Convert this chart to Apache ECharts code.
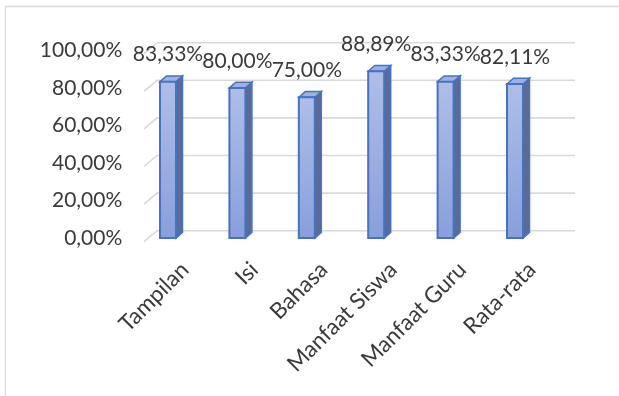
<!DOCTYPE html>
<html>
<head>
<meta charset="utf-8">
<style>
html,body{margin:0;padding:0;background:#fff;}
#c{width:619px;height:396px;}
</style>
<script src="https://cdn.jsdelivr.net/npm/echarts@6/dist/echarts.min.js"></script>
</head>
<body>
<div id="c"></div>
<script>
const categories = ['Tampilan', 'Isi', 'Bahasa', 'Manfaat Siswa', 'Manfaat Guru', 'Rata-rata'];
const values = [83.33, 80.00, 75.00, 88.89, 83.33, 82.11];
const yTicks = [0, 20, 40, 60, 80, 100];

const FONT = 'Lato';
const FS = 21;
const CAT_FS = 22.5;
const TXT = '#3a3a3a';
const fmt = v => v.toFixed(2).replace('.', ',') + '%';

const chart = echarts.init(document.getElementById('c'), null, {renderer: 'canvas'});

const option = {
  animation: false,
  backgroundColor: '#ffffff',
  graphic: [
    {type: 'line', shape: {x1: 5.5, y1: 6, x2: 5.5, y2: 396}, style: {stroke: '#d9d9d9', lineWidth: 1.3}},
    {type: 'line', shape: {x1: 5, y1: 6.5, x2: 619, y2: 6.5}, style: {stroke: '#d9d9d9', lineWidth: 1.3}}
  ],
  grid: [
    {left: 133.3, top: 50.4, width: 416.4, height: 187.6},   // front plane (bars)
    {left: 157, top: 42.7, width: 418, height: 188},          // back wall (gridlines)
    {left: 150.3, top: 50.4, width: 416.4, height: 187.6}    // category labels
  ],
  xAxis: [
    {type: 'category', gridIndex: 0, data: categories, show: false},
    {type: 'category', gridIndex: 1, data: categories, show: false},
    {type: 'category', gridIndex: 2, data: categories,
      axisLine: {show: false}, axisTick: {show: false},
      axisLabel: {rotate: 45, margin: 28, interval: 0, fontFamily: FONT, fontSize: CAT_FS, color: TXT}}
  ],
  yAxis: [
    {type: 'value', gridIndex: 0, min: 0, max: 100, interval: 20,
      axisLine: {show: false}, axisTick: {show: false}, splitLine: {show: false},
      axisLabel: {margin: 11, fontFamily: FONT, fontSize: FS, color: TXT, padding: [6, 0, 0, 0],
        formatter: v => fmt(v)}},
    {type: 'value', gridIndex: 1, min: 0, max: 100, interval: 20, show: false},
    {type: 'value', gridIndex: 2, min: 0, max: 100, show: false}
  ],
  series: [
    {
      type: 'custom', xAxisIndex: 1, yAxisIndex: 1, z: 1,
      data: yTicks.map(t => [0, t]),
      renderItem: function (params, api) {
        const cs = params.coordSys;
        const y = api.coord([0, api.value(1)])[1];
        return {
          type: 'polyline',
          shape: {points: [[cs.x - 13, y + 11], [cs.x, y], [cs.x + cs.width, y]]},
          style: {stroke: '#d9d9d9', lineWidth: 1.6, fill: null}
        };
      }
    },
    {
      type: 'custom', xAxisIndex: 0, yAxisIndex: 0, z: 3,
      data: values.map((v, i) => [i, v]),
      renderItem: function (params, api) {
        const v = api.value(1);
        const p = api.coord([api.value(0), v]);
        const b = api.coord([api.value(0), 0]);
        const hw = 8, dx = 6.5, dy = 5.7;
        const x0 = p[0] - hw, x1 = p[0] + hw;
        const stroke = '#4472c4';
        return {
          type: 'group',
          children: [
            {type: 'polygon', shape: {points: [[x1, p[1]], [x1 + dx, p[1] - dy], [x1 + dx, b[1] - dy], [x1, b[1]]]},
              style: {fill: '#5b6b96', stroke: stroke, lineWidth: 1.5}},
            {type: 'polygon', shape: {points: [[x0, p[1]], [x0 + dx, p[1] - dy], [x1 + dx, p[1] - dy], [x1, p[1]]]},
              style: {fill: '#9fb1df', stroke: stroke, lineWidth: 1.5}},
            {type: 'rect', shape: {x: x0, y: p[1], width: 2 * hw, height: b[1] - p[1]},
              style: {
                fill: new echarts.graphic.LinearGradient(0, 0, 0, 1, [
                  {offset: 0, color: '#aebee7'}, {offset: 1, color: '#889fdb'}
                ]),
                stroke: stroke, lineWidth: 2
              }},
            {type: 'text', x: p[0], y: p[1] - 27,
              style: {text: fmt(v), fontFamily: FONT, fontSize: FS, fill: TXT, align: 'center', verticalAlign: 'middle'}}
          ]
        };
      }
    }
  ]
};
chart.setOption(option);
</script>
</body>
</html>
